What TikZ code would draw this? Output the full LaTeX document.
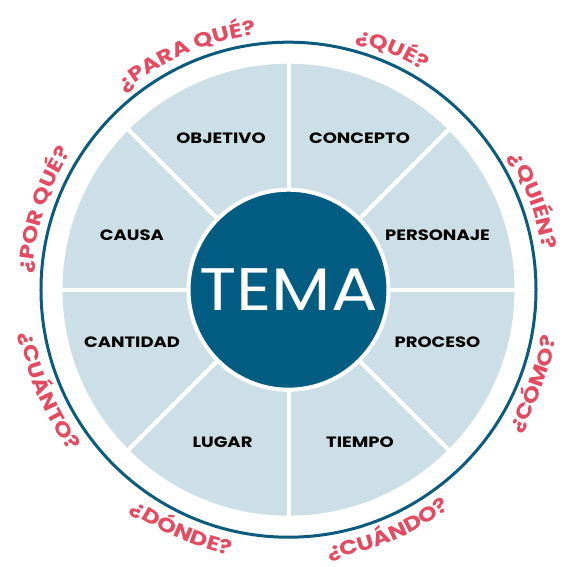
\documentclass[tikz,border=0pt]{standalone}
\usepackage{fontspec}
\setmainfont{Poppins}
\newfontfamily\slotface[FakeStretch=1.2]{Poppins}
\newfontfamily\temaface[FakeStretch=1.15]{Poppins}
\newfontfamily\askface[FakeStretch=1.2]{Poppins}
\usepackage{xcolor}
\usepackage{tikz}
\usetikzlibrary{decorations.text}

\definecolor{temablue}{HTML}{035C82}
\definecolor{ringblue}{HTML}{0A5B7E}
\definecolor{paleblue}{HTML}{CDDFE6}
\definecolor{askred}{HTML}{E44B60}

\newcommand{\askfont}{\askface\fontsize{20}{20}\selectfont\bfseries\color{askred}}

\begin{document}
\begin{tikzpicture}[x=1pt,y=1pt,
    slot/.style={font=\slotface\fontsize{15}{15}\selectfont\bfseries, text=black, inner sep=0pt, text height=10.5pt, text depth=0pt},
    ask/.style={decorate, decoration={text along path, text align=center, text={|\askfont|#1}}}]
    \useasboundingbox (-288.5,-277.3) rectangle (274.5,289.7);

    % outer ring and wheel
    \draw[ringblue, line width=3pt] (0,0) circle[radius=247.5];
    \fill[paleblue] (0,0) circle[radius=226];
    \foreach \a in {0,45,...,315}
        \draw[white, line width=4pt] (0,0) -- (\a:230);

    \node[circle, fill=temablue, draw=white, line width=4pt, minimum size=200pt, inner sep=0pt,
        text=white, font=\temaface\fontsize{60}{60}\selectfont, text height=42pt, text depth=0pt] (tema) at (0,0) {TEMA};

    % sectors
    \node[slot] (objetivo) at (-67.5,151.5) {OBJETIVO};
    \node[slot] (concepto) at (71,151.5) {CONCEPTO};
    \node[slot] (causa) at (-156.5,54) {CAUSA};
    \node[slot] (personaje) at (149,54) {PERSONAJE};
    \node[slot] (cantidad) at (-156.5,-52.3) {CANTIDAD};
    \node[slot] (proceso) at (149,-52.3) {PROCESO};
    \node[slot] (lugar) at (-66,-152.3) {LUGAR};
    \node[slot] (tiempo) at (71.5,-152.3) {TIEMPO};

    % questions round the rim, upper half clockwise, lower half anticlockwise
    \path[ask={¿PARA QUÉ?}] (153.5:257) arc[start angle=153.5, end angle=73.5, radius=257];
    \path[ask={¿QUÉ?}] (106.6:257) arc[start angle=106.6, end angle=26.6, radius=257];
    \path[ask={¿QUIÉN?}] (60:257) arc[start angle=60, end angle=-20, radius=257];
    \path[ask={¿POR QUÉ?}] (202:257) arc[start angle=202, end angle=122, radius=257];
    \path[ask={¿CÓMO?}] (-61:272) arc[start angle=-61, end angle=19, radius=272];
    \path[ask={¿CUÁNDO?}] (-107.5:272) arc[start angle=-107.5, end angle=-27.5, radius=272];
    \path[ask={¿DÓNDE?}] (-154:272) arc[start angle=-154, end angle=-74, radius=272];
    \path[ask={¿CUÁNTO?}] (-197:272) arc[start angle=-197, end angle=-117, radius=272];
\end{tikzpicture}
\end{document}
